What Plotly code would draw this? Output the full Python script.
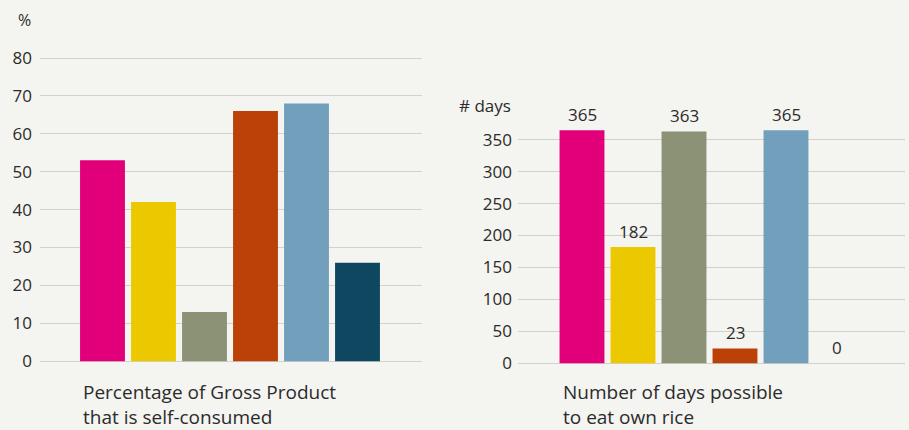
import plotly.graph_objects as go

groups = ["A", "B", "C", "D", "E", "F"]
colors = ["#e2007a", "#ecc800", "#8c9275", "#bb4109", "#729fbb", "#0f4760"]

pct_self_consumed = [53, 42, 13, 66, 68, 26]
days_own_rice = [365, 182, 363, 23, 365, 0]

left_ticks = [0, 10, 20, 30, 40, 50, 60, 70, 80]
right_ticks = [0, 50, 100, 150, 200, 250, 300, 350]

left_title = "Percentage of Gross Product<br>that is self-consumed"
right_title = "Number of days possible<br>to eat own rice"

FONT = "Open Sans"
TXT = "#2b2b2b"
BG = "#f4f4f0"
W, H = 909, 430

fig = go.Figure()
fig.add_trace(go.Bar(x=list(range(len(groups))), y=pct_self_consumed, marker_color=colors,
                     marker_line_width=0, xaxis="x", yaxis="y", showlegend=False))
fig.add_trace(go.Bar(x=list(range(len(groups))), y=days_own_rice, marker_color=colors,
                     marker_line_width=0, xaxis="x2", yaxis="y2", showlegend=False))

for i, v in enumerate(days_own_rice):
    fig.add_annotation(x=i, y=v, xref="x2", yref="y2", text=str(v), showarrow=False,
                       yshift=16, xanchor="center", yanchor="middle",
                       font=dict(family=FONT, size=17, color=TXT))

def px_x(p):
    return p / W

def px_y(p):
    return 1 - p / H

grid = "rgba(195,195,190,0.7)"

fig.update_layout(
    xaxis=dict(domain=[px_x(40), px_x(422)], range=[(40 - 102.5) / 51, (422 - 102.5) / 51],
               showticklabels=False, showgrid=False, zeroline=False),
    yaxis=dict(domain=[px_y(371.7), px_y(47.3)], range=[-2, 82], tickvals=left_ticks,
               showgrid=True, gridcolor=grid, gridwidth=1, zeroline=False, layer="above traces",
               ticks="", ticklabelstandoff=7, anchor="x",
               tickfont=dict(family=FONT, size=17, color=TXT)),
    xaxis2=dict(domain=[px_x(518), px_x(905)], range=[(518 - 582) / 51, (905 - 582) / 51],
                showticklabels=False, showgrid=False, zeroline=False, anchor="y2"),
    yaxis2=dict(domain=[px_y(372.5), px_y(105.8)], range=[-10, 400], tickvals=right_ticks,
                showgrid=True, gridcolor=grid, gridwidth=1, zeroline=False, layer="above traces",
                ticks="", ticklabelstandoff=5, anchor="x2",
                tickfont=dict(family=FONT, size=17, color=TXT)),
    bargap=0.12,
    plot_bgcolor=BG, paper_bgcolor=BG,
    width=W, height=H,
    margin=dict(l=0, r=0, t=0, b=0),
)

fig.add_annotation(x=px_x(24), y=px_y(16), xref="paper", yref="paper", text="%", showarrow=False,
                   xanchor="center", yanchor="middle",
                   font=dict(family=FONT, size=16, color=TXT))
fig.add_annotation(x=px_x(485), y=px_y(103), xref="paper", yref="paper", text="# days", showarrow=False,
                   xanchor="center", yanchor="middle",
                   font=dict(family=FONT, size=17, color=TXT))
fig.add_annotation(x=px_x(81), y=px_y(380), xref="paper", yref="paper", text=left_title, showarrow=False,
                   xanchor="left", yanchor="top", align="left",
                   font=dict(family=FONT, size=19, color=TXT))
fig.add_annotation(x=px_x(561), y=px_y(380), xref="paper", yref="paper", text=right_title, showarrow=False,
                   xanchor="left", yanchor="top", align="left",
                   font=dict(family=FONT, size=19, color=TXT))

fig.write_html("out.html", config={"displayModeBar": False},
               post_script="document.body.style.margin='0';document.body.style.background='%s';" % BG)
